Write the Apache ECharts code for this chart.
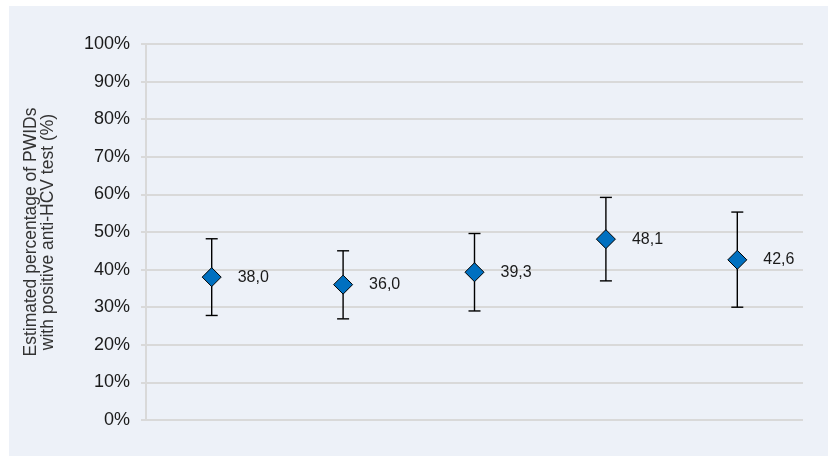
<!DOCTYPE html>
<html>
<head>
<meta charset="utf-8">
<script src="https://cdn.jsdelivr.net/npm/echarts@6/dist/echarts.min.js"></script>
<style>
  html, body { margin: 0; padding: 0; background: #fff; }
  #chart { width: 828px; height: 456px; }
</style>
</head>
<body>
<div id="chart"></div>
<script>
var categories = ["1", "2", "3", "4", "5"];
var estimates = [38.0, 36.0, 39.3, 48.1, 42.6];
var lowerBounds = [27.8, 26.9, 29.0, 37.0, 30.0];
var upperBounds = [48.2, 45.0, 49.6, 59.2, 55.3];
var yTicks = [0, 10, 20, 30, 40, 50, 60, 70, 80, 90, 100];

(function () {
  var chart = echarts.init(document.getElementById("chart"));
  var font = "Liberation Sans, Arial, sans-serif";

  function renderErrorBar(params, api) {
    var x = api.value(0);
    var lo = api.coord([x, api.value(1)]);
    var hi = api.coord([x, api.value(2)]);
    var half = 6;
    var style = { stroke: "#000", lineWidth: 1.4 };
    return {
      type: "group",
      children: [
        { type: "line", shape: { x1: hi[0], y1: hi[1], x2: lo[0], y2: lo[1] }, style: style },
        { type: "line", shape: { x1: hi[0] - half, y1: hi[1], x2: hi[0] + half, y2: hi[1] }, style: style },
        { type: "line", shape: { x1: lo[0] - half, y1: lo[1], x2: lo[0] + half, y2: lo[1] }, style: style }
      ]
    };
  }

  chart.setOption({
    backgroundColor: "#fff",
    animation: false,
    textStyle: { fontFamily: font },
    graphic: [
      {
        type: "rect",
        z: -10,
        silent: true,
        shape: { x: 9, y: 6, width: 828, height: 456 },
        style: { fill: "#edf1f8" }
      }
    ],
    grid: { left: 146, right: 25, top: 44, bottom: 36 },
    xAxis: {
      type: "category",
      data: categories,
      boundaryGap: true,
      axisLine: { show: false },
      axisTick: { show: false },
      axisLabel: { show: false },
      splitLine: { show: false }
    },
    yAxis: {
      type: "value",
      min: yTicks[0],
      max: yTicks[yTicks.length - 1],
      interval: 10,
      name: "Estimated percentage of PWIDs\nwith positive anti-HCV test (%)",
      nameLocation: "middle",
      nameRotate: 90,
      nameGap: 90,
      nameTextStyle: { color: "#333", fontSize: 17.5, lineHeight: 16.5, fontFamily: font },
      axisLine: { show: true, lineStyle: { color: "#d9d9d9", width: 2 } },
      axisTick: { show: true, length: 5, lineStyle: { color: "#d9d9d9", width: 2 } },
      axisLabel: {
        margin: 16,
        color: "#1a1a1a",
        fontSize: 18,
        fontFamily: font,
        formatter: "{value}%"
      },
      splitLine: { show: true, lineStyle: { color: "#d9d9d9", width: 2 } }
    },
    series: [
      {
        type: "custom",
        renderItem: renderErrorBar,
        encode: { x: 0, y: [1, 2] },
        z: 2,
        data: categories.map(function (c, i) {
          return [i, lowerBounds[i], upperBounds[i]];
        })
      },
      {
        type: "scatter",
        symbol: "diamond",
        symbolSize: 19,
        z: 5,
        itemStyle: { color: "#0070c0", borderColor: "#000", borderWidth: 1, opacity: 1 },
        label: {
          show: true,
          position: "right",
          distance: 16,
          color: "#1a1a1a",
          fontSize: 16,
          fontFamily: font,
          formatter: function (p) {
            return p.value[1].toFixed(1).replace(".", ",");
          }
        },
        data: categories.map(function (c, i) {
          return [i, estimates[i]];
        })
      }
    ]
  });
})();
</script>
</body>
</html>
